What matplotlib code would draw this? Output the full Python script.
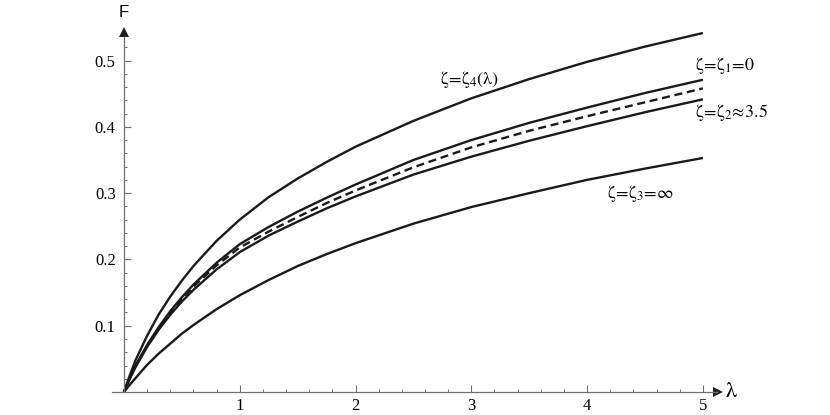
import numpy as np
import matplotlib
matplotlib.use("Agg")
import matplotlib.pyplot as plt
from matplotlib.ticker import FixedLocator

plt.rcParams["font.family"] = ["Liberation Serif", "DejaVu Serif"]
plt.rcParams["mathtext.fontset"] = "stix"

# values
lam = [0, 0.05, 0.1, 0.2, 0.3, 0.4, 0.5, 0.6, 0.8, 1.0, 1.25, 1.5, 1.75,
       2.0, 2.5, 3.0, 3.5, 4.0, 4.5, 5.0]
F_zeta4 = [0, 0.025, 0.048, 0.085, 0.117, 0.144, 0.168, 0.190, 0.228, 0.260,
           0.294, 0.322, 0.347, 0.370, 0.409, 0.443, 0.472, 0.498, 0.521, 0.5415]
F_zeta1 = [0, 0.021, 0.040, 0.071, 0.098, 0.122, 0.143, 0.162, 0.195, 0.223,
           0.249, 0.272, 0.293, 0.313, 0.350, 0.380, 0.406, 0.429, 0.451, 0.471]
F_dashed = [0, 0.0205, 0.039, 0.070, 0.096, 0.120, 0.140, 0.159, 0.191, 0.218,
            0.242, 0.264, 0.285, 0.304, 0.339, 0.369, 0.394, 0.416, 0.437, 0.458]
F_zeta2 = [0, 0.020, 0.0375, 0.068, 0.094, 0.1165, 0.1365, 0.154, 0.185, 0.211,
           0.236, 0.257, 0.277, 0.295, 0.328, 0.355, 0.379, 0.401, 0.422, 0.4415]
F_zeta3 = [0, 0.011, 0.021, 0.041, 0.058, 0.073, 0.088, 0.101, 0.125, 0.146,
           0.169, 0.190, 0.208, 0.2245, 0.254, 0.279, 0.300, 0.320, 0.337, 0.353]

x_ticks = [1, 2, 3, 4, 5]
y_ticks = [0.1, 0.2, 0.3, 0.4, 0.5]

labels = {
    "z4": r"$\mathrm{\zeta\!=\!\zeta_4(\lambda)}$",
    "z1": r"$\mathrm{\zeta\!=\!\zeta_1\!=\!0}$",
    "z2": r"$\mathrm{\zeta\!=\!\zeta_2\!\approx\!3.5}$",
    "z3": r"$\mathrm{\zeta\!=\!\zeta_3\!=\!\infty}$",
}

fig = plt.figure(figsize=(8.3, 4.15), dpi=100)
ax = fig.add_axes([0.1354, 0.0234, 0.7673, 0.9586])
ax.set_xlim(-0.1, 5.4)
ax.set_ylim(-0.02, 0.58)

lc = "#1a1a1a"
lw = 1.7
ax.plot(lam, F_zeta4, color=lc, lw=lw, solid_capstyle="butt")
ax.plot(lam, F_zeta1, color=lc, lw=lw, solid_capstyle="butt")
ax.plot(lam, F_zeta2, color=lc, lw=lw, solid_capstyle="butt")
ax.plot(lam, F_zeta3, color=lc, lw=lw, solid_capstyle="butt")
ax.plot(lam, F_dashed, color=lc, lw=lw, dashes=(3.4, 2.0), dash_capstyle="butt")

# axes through the origin with arrows
axc = "#707070"
for s in ["top", "right"]:
    ax.spines[s].set_visible(False)
ax.spines["bottom"].set_position(("data", 0))
ax.spines["left"].set_position(("data", 0))
ax.spines["bottom"].set_bounds(-0.1, 5.12)
ax.spines["left"].set_bounds(0, 0.535)
ax.spines["bottom"].set_color(axc)
ax.spines["left"].set_color(axc)
ax.spines["bottom"].set_linewidth(0.9)
ax.spines["left"].set_linewidth(0.9)
ax.plot(5.13, 0, marker=">", ms=7, color="#202020", clip_on=False, mew=0)
ax.plot(0, 0.543, marker="^", ms=7, color="#202020", clip_on=False, mew=0)

ax.set_xticks(x_ticks)
ax.set_yticks(y_ticks)
ax.set_xticklabels([str(t) for t in x_ticks])
ax.set_yticklabels([str(t) for t in y_ticks])
ax.xaxis.set_minor_locator(FixedLocator(np.arange(0.2, 5.01, 0.2)))
ax.yaxis.set_minor_locator(FixedLocator(np.arange(0.02, 0.531, 0.02)))
ax.tick_params(which="major", direction="in", length=5, width=0.8, color=axc,
               labelsize=12, pad=4)
ax.tick_params(which="minor", direction="in", length=2.5, width=0.7, color=axc)
ax.tick_params(axis="y", pad=6)

ax.text(0, 0.572, "F", family="Liberation Sans", fontsize=12,
        ha="center", va="center")
ax.text(5.19, 0.0, r"$\mathrm{\lambda}$", fontsize=16, ha="left", va="center")

fs = 13
ax.text(2.73, 0.471, labels["z4"], fontsize=fs, ha="left", va="center")
ax.text(4.93, 0.492, labels["z1"], fontsize=fs, ha="left", va="center")
ax.text(4.93, 0.421, labels["z2"], fontsize=fs, ha="left", va="center")
ax.text(4.17, 0.300, labels["z3"], fontsize=fs, ha="left", va="center")

fig.savefig("out.png", dpi=100)
